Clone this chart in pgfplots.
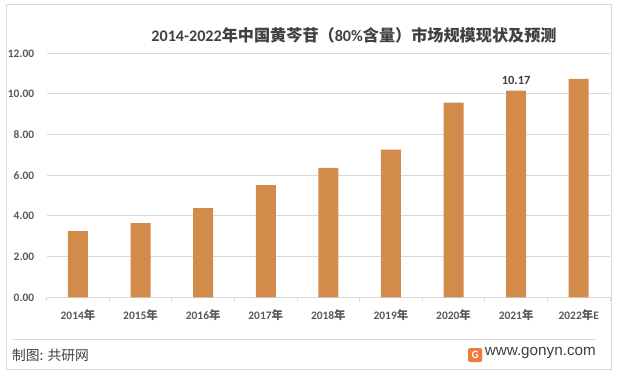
\documentclass[border=0pt]{standalone}
\usepackage{pgfplots}
\pgfplotsset{compat=1.18}
\usepackage{fontspec}
\setmainfont{Carlito}
\newfontfamily\cjk{Noto Sans CJK SC}
\newfontfamily\webfont{Liberation Sans}
\definecolor{barc}{HTML}{D38B4C}
\definecolor{gridc}{HTML}{D9D9D9}
\definecolor{txt}{HTML}{595959}
\definecolor{ttl}{HTML}{404040}
\definecolor{logoc}{HTML}{EE7B3A}
\begin{document}
\begin{tikzpicture}[x=1bp,y=1bp]
\path[use as bounding box] (0,0) rectangle (620,375);
\fill[white] (0,0) rectangle (620,375);
\draw[gridc, line width=1bp] (6.5,6) rectangle (611,370);
\begin{axis}[
  at={(46.7bp,77.7bp)}, anchor=south west,
  scale only axis, width=563.3bp, height=244bp,
  xmin=-0.5, xmax=8.5, ymin=0, ymax=12,
  ytick={0,2,...,12},
  axis x line*=bottom, axis y line*=left,
  y axis line style={draw=none},
  x axis line style={gridc, line width=1bp},
  ymajorgrids, grid style={gridc, line width=1bp},
  ytick style={draw=none},
  xtick={-0.5,0.5,...,8.5}, x tick label as interval,
  xticklabels={2014{\cjk 年},2015{\cjk 年},2016{\cjk 年},2017{\cjk 年},2018{\cjk 年},2019{\cjk 年},2020{\cjk 年},2021{\cjk 年},2022{\cjk 年}E},
  xtick style={gridc, line width=1bp}, tick align=outside, major tick length=4bp,
  xticklabel style={font=\bfseries\fontsize{11.5}{12}\selectfont, text=txt, yshift=-5bp},
  yticklabel style={font=\bfseries\fontsize{11.5}{12}\selectfont, text=txt, xshift=-5bp},
  yticklabel={\pgfmathprintnumber[fixed,fixed zerofill,precision=2]{\tick}},
  /pgf/number format/assume math mode=true,
  ybar, bar width=20bp,
  nodes near coords, point meta=explicit symbolic,
  every node near coord/.append style={font=\bfseries\fontsize{12.5}{13}\selectfont, text=ttl, yshift=2bp},
  clip=false,
]
\addplot[fill=barc, draw=none] coordinates {
  (0,3.26) []
  (1,3.65) []
  (2,4.39) []
  (3,5.52) []
  (4,6.36) []
  (5,7.26) []
  (6,9.57) []
  (7,10.17) [10.17]
  (8,10.74) []
};
\end{axis}
\node[font=\fontsize{16.2}{17}\selectfont\bfseries, text=ttl] at (354,339.5) {2014-2022{\cjk 年中国黄芩苷（}80\%{\cjk 含量）市场规模现状及预测}};
\draw[gridc, line width=1bp] (11.7,36) -- (596,36);
\node[anchor=west, font=\cjk\fontsize{13.8}{14}\selectfont, text=ttl, inner sep=0] at (12,20) {制图: 共研网};
\node[anchor=east, font=\webfont\fontsize{15.3}{16}\selectfont, text=ttl, inner sep=0] at (596,22) {www.gonyn.com};
\fill[logoc, rounded corners=1.5bp] (468,13) rectangle (482,27);
\node[white, font=\bfseries\fontsize{11}{11}\selectfont, inner sep=0] at (475,20) {G};
\end{tikzpicture}
\end{document}
